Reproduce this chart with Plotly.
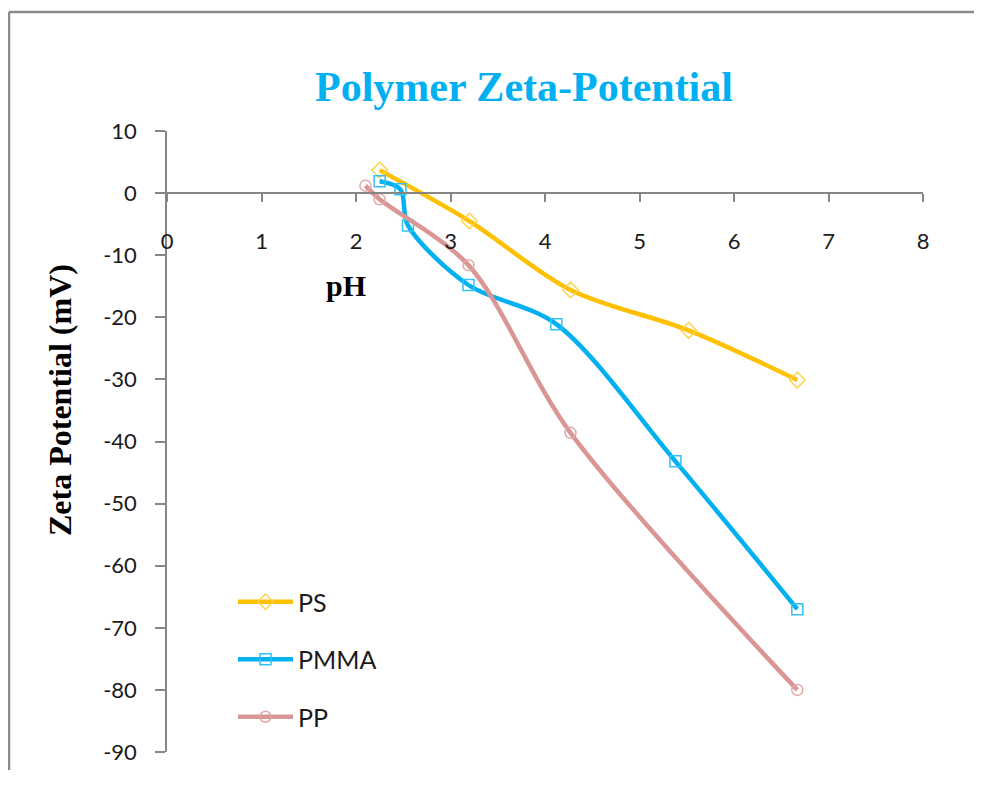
import plotly.graph_objects as go

ps_ph = [2.25, 3.20, 4.27, 5.52, 6.67]
ps_zeta = [3.7, -4.5, -15.6, -22.1, -30.1]

pmma_ph = [2.25, 2.47, 2.55, 3.19, 4.12, 5.38, 6.67]
pmma_zeta = [1.9, 0.6, -5.2, -14.8, -21.1, -43.2, -67.0]

pp_ph = [2.10, 2.25, 3.19, 4.27, 6.67]
pp_zeta = [1.2, -1.0, -11.6, -38.6, -80.0]

x_ticks = [0, 1, 2, 3, 4, 5, 6, 7, 8]
y_ticks = [10, 0, -10, -20, -30, -40, -50, -60, -70, -80, -90]

series = [
    ("PS", ps_ph, ps_zeta, "#FFC000", "#FFD34D", "diamond-open", 12),
    ("PMMA", pmma_ph, pmma_zeta, "#00B0F0", "#33C2F5", "square-open", 11),
    ("PP", pp_ph, pp_zeta, "#D99694", "#E0A9A7", "circle-open", 11),
]

fig = go.Figure()
for i, (name, xs, ys, lc, mc, sym, ms) in enumerate(series):
    fig.add_trace(go.Scatter(
        x=xs, y=ys, name=name, mode="lines+markers",
        line=dict(color=lc, width=4.5, shape="spline", smoothing=0.9),
        marker=dict(symbol=sym, size=ms, color=mc, line=dict(color=mc, width=1.5)),
        legendgroup=name,
    ))

axis_color = "#868686"
tick_font = dict(family="Lato", size=22, color="#1a1a1a")

# page has an 8px body margin; figure sized so the plot area lands at page px 167..923 x 131..752
W, H = 966, 762
L, T = 159, 123
PW, PH = 756, 621

def px(xp):  # page px -> paper x
    return (xp - 167) / PW

def py(yp):  # page px -> paper y
    return (752 - yp) / PH

border = dict(color="#8a8a8a", width=2.5)

fig.update_layout(
    width=W, height=H,
    margin=dict(l=L, r=W - L - PW, t=T, b=H - T - PH, autoexpand=False),
    paper_bgcolor="white", plot_bgcolor="white",
    title=dict(
        text="Polymer Zeta-Potential",
        font=dict(family="Liberation Serif", size=42, color="#00B0F0", weight="bold"),
        x=px(524), xref="paper", xanchor="center",
        y=1 - (86 - 8) / H, yref="container", yanchor="middle",
    ),
    xaxis=dict(
        range=[0, 8], tickvals=x_ticks, ticktext=[str(v) for v in x_ticks],
        showgrid=False, zeroline=False, showline=True, linecolor=axis_color, linewidth=1.5,
        ticks="outside", ticklen=8, tickwidth=1.5, tickcolor=axis_color,
        anchor="free", position=0.9, tickfont=tick_font, ticklabelstandoff=21,
        automargin=False,
    ),
    yaxis=dict(
        range=[-90, 10], tickvals=y_ticks, ticktext=[str(v) for v in y_ticks],
        showgrid=False, zeroline=False, showline=True, linecolor=axis_color, linewidth=1.5,
        ticks="outside", ticklen=10, tickwidth=1.5, tickcolor=axis_color,
        tickfont=tick_font, ticklabelstandoff=14, automargin=False,
    ),
    legend=dict(
        x=px(233), y=py(579), xanchor="left", yanchor="top",
        font=dict(family="Lato", size=25, color="#1a1a1a"),
        bgcolor="rgba(0,0,0,0)", borderwidth=0, tracegroupgap=22, itemwidth=55,
    ),
    showlegend=True,
    annotations=[
        dict(text="<b>Zeta Potential (mV)</b>", xref="paper", yref="paper",
             x=px(60), y=py(400), textangle=-90, showarrow=False,
             font=dict(family="Liberation Serif", size=32, color="black"),
             xanchor="center", yanchor="middle"),
        dict(text="<b>pH</b>", xref="paper", yref="paper",
             x=px(346), y=py(285), showarrow=False,
             font=dict(family="Liberation Serif", size=30, color="black"),
             xanchor="center", yanchor="middle"),
    ],
    shapes=[
        dict(type="line", xref="paper", yref="paper",
             x0=px(9), x1=px(9), y0=-0.3, y1=py(12), line=border, layer="below"),
        dict(type="line", xref="paper", yref="paper",
             x0=px(9), x1=1.3, y0=py(12), y1=py(12), line=border, layer="below"),
    ],
)

fig.write_html("out.html")
